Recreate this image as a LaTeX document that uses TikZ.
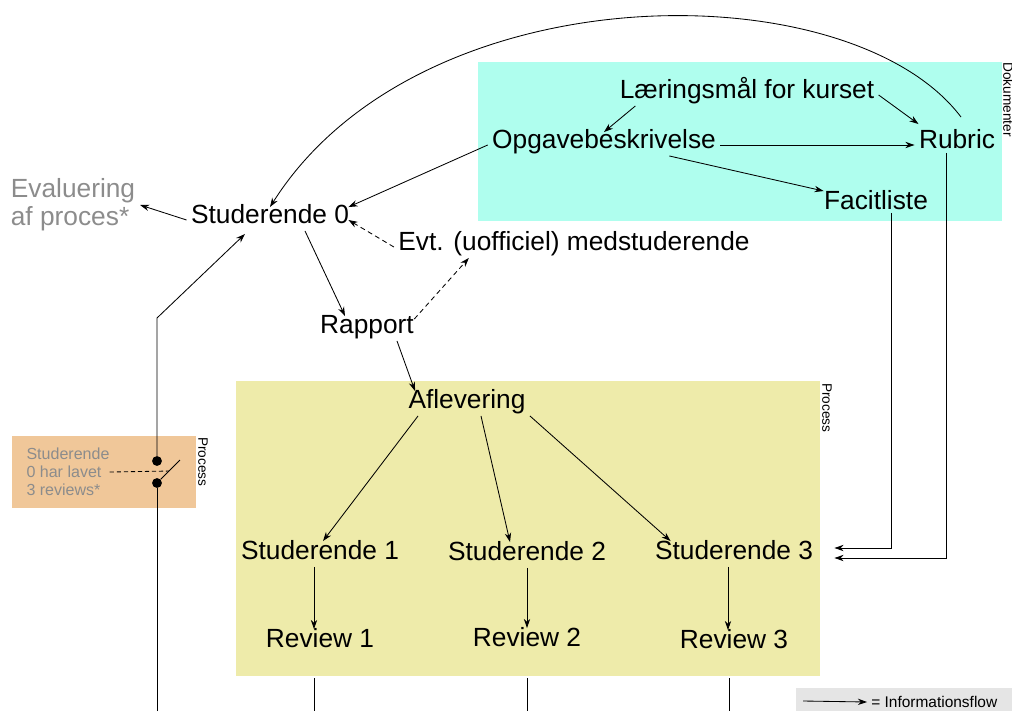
\documentclass[tikz,border=0pt]{standalone}
\usepackage{fontspec}
\setmainfont{Liberation Sans}
\usetikzlibrary{positioning,calc,fit,arrows.meta}

\definecolor{dokcyan}{RGB}{175,254,238}
\definecolor{procyellow}{RGB}{238,235,170}
\definecolor{reviewsand}{RGB}{240,199,153}
\definecolor{notegray}{RGB}{140,140,140}
\definecolor{leggray}{RGB}{229,229,229}

\begin{document}
\begin{tikzpicture}[
    x=0.025cm, y=-0.025cm,
    every node/.style={font=\fontsize{18.7}{20}\selectfont},
    item/.style={text height=0.72em, text depth=0.2em, inner sep=0.3em},
    area/.style={inner sep=0pt, draw=none},
    side/.style={rotate=-90, anchor=south west, inner sep=0pt, font=\fontsize{9.7}{11}\selectfont},
    dot/.style={circle, fill=black, inner sep=0pt, minimum size=7pt},
    wire/.style={draw, line width=0.6pt},
    flow/.style={wire, -{Stealth[length=6.5pt, width=4.5pt]}},
    hint/.style={flow, dash pattern=on 3.5pt off 2.5pt}
]
\useasboundingbox (0,0) rectangle (1012,711);

% Background areas
\node[area, fill=dokcyan, fit={(478,62) (1002,221)}] (dokbox) {};
\node[area, fill=procyellow, fit={(236,381) (820,676)}] (procbox) {};
\node[area, fill=reviewsand, fit={(12,436) (196,508)}] (revbox) {};
\node[area, fill=leggray, fit={(796,688) (1012,711)}] (legbox) {};

\node[side] at (1003,62) {Dokumenter};
\node[side] at (822,383) {Process};
\node[side] at (198,437) {Process};

% Documents
\node[item] (lmaal) at (747,95) {Læringsmål for kurset};
\node[item] (opgave) at (604,145) {Opgavebeskrivelse};
\node[item] (rubric) at (957,145) {Rubric};
\node[item] (facit) at (876,206) {Facitliste};

% Students and products
\node[align=left, text=notegray] (evalproc) at (73,205) {Evaluering\\af proces*};
\node[item] (stud0) at (270,220) {Studerende 0};
\node[item] (evt) at (574,247) {Evt. (uofficiel) medstuderende};
\node[item] (rapport) at (367,330) {Rapport};
\node[item] (aflev) at (467,405) {Aflevering};
\node[item] (stud1) at (320,556) {Studerende 1};
\node[item] (stud2) at (527,557) {Studerende 2};
\node[item] (stud3) at (734,556) {Studerende 3};
\node[item] (rev1) at (320,644) {Review 1};
\node[item] (rev2) at (527,643) {Review 2};
\node[item] (rev3) at (734,645) {Review 3};

% Switch
\node[align=left, inner sep=0pt, text=notegray, font=\fontsize{11.4}{12.8}\selectfont] (swnote) at (68,472) {Studerende\\0 har lavet\\3 reviews*};
\node[dot] (sw1) at (157,461) {};
\node[dot] (sw2) at (157,483) {};
\coordinate (swtip) at (180,460);
\coordinate (leftbend) at (157,318);
\coordinate (leftbot) at (157,711);

% Legend
\node[anchor=west, inner sep=0pt, font=\fontsize{11}{13}\selectfont] (legtxt) at (871,702) {= Informationsflow};
\coordinate (legstart) at (803,701);

% Information flow
\draw[flow] (lmaal.east) -- ($(rubric.north west)+(4,-10)$);
\draw[flow] ($(lmaal.south west)+(20,0)$) -- ($(opgave.north)+(0,-2)$);
\draw[flow] (opgave) -- (rubric);
\draw[flow] ($(opgave.south east)+(-51,0)$) -- ($(facit.north west)+(4,-4)$);
\draw[flow] (opgave.west) -- ($(stud0.north east)+(-5,-2)$);
\draw[flow] ($(rubric.north)+(4,-17)$) .. controls (850,-30) and (420,-30) .. ($(stud0.north)+(0,-2)$);
\draw[flow] (stud0.west) -- (evalproc.east);
\draw[hint] (evt.west) -- ($(stud0.east)+(-5,0)$);
\draw[hint] ($(rapport.north east)+(-4,0)$) -- ($(evt.south west)+(75,0)$);
\draw[flow] ($(stud0.south)+(35,0)$) -- ($(rapport.north)+(-22,-3)$);
\draw[flow] ($(rapport.south)+(30,0)$) -- ($(aflev.north west)+(11,-3)$);
\draw[flow] ($(aflev.south west)+(14,0)$) -- ($(stud1.north)+(3,-4)$);
\draw[flow] ($(aflev.south)+(14,0)$) -- ($(stud2.north)+(-17,-4)$);
\draw[flow] (aflev.south east) -- ($(stud3.north west)+(20,-4)$);
\draw[flow] ($(stud1.south)+(-6,0)$) -- ($(rev1.north)+(-6,-4)$);
\draw[flow] (stud2) -- ($(rev2.north)+(0,-4)$);
\draw[flow] ($(stud3.south)+(-6,0)$) -- ($(rev3.north)+(-6,-4)$);
\draw[flow] ($(facit.south)+(15,-4)$) |- ($(stud3.east)+(17,-8)$);
\draw[flow] ($(rubric.south)+(-11,-3)$) |- ($(stud3.east)+(17,2)$);

% Reviews leave the picture
\draw[wire] ($(rev1 |- procbox.south)+(-6,2)$) -- ($(rev1 |- leftbot)+(-6,0)$);
\draw[wire] ($(rev2 |- procbox.south)+(0,2)$) -- (rev2 |- leftbot);
\draw[wire] ($(rev3 |- procbox.south)+(-5,2)$) -- ($(rev3 |- leftbot)+(-5,0)$);

% Student 0 path with switch
\draw[wire] (leftbot) -- (sw2);
\draw[wire] (sw2) -- (swtip);
\draw[wire, dash pattern=on 3pt off 2pt] (swnote.east) -- ($(sw2)!0.52!(swtip)$);
\draw[flow] (sw1) -- (leftbend) -- ($(stud0.south)+(-25,3)$);

\draw[flow] (legstart) -- ($(legtxt.west)+(-4,0)$);

\end{tikzpicture}
\end{document}
